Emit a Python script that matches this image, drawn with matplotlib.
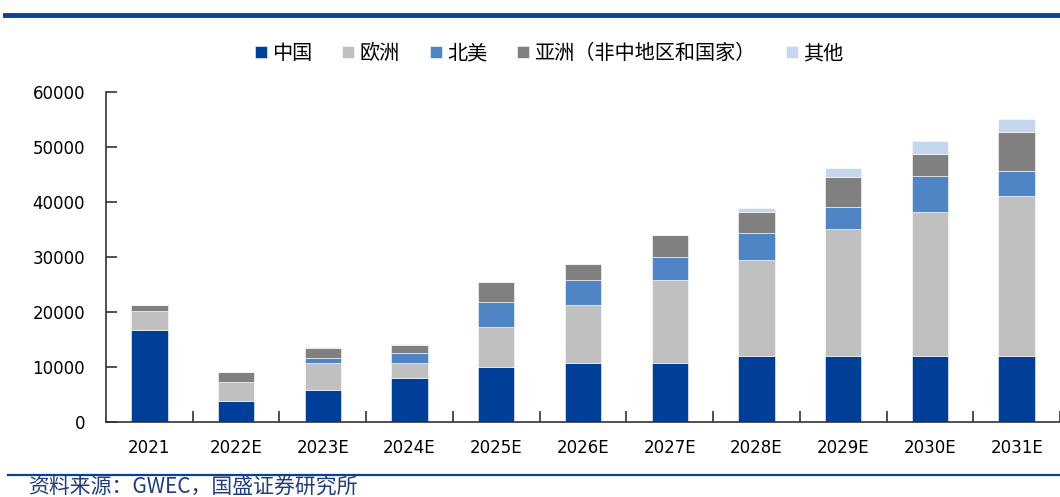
import matplotlib
matplotlib.use("Agg")
import matplotlib.pyplot as plt
import numpy as np

plt.rcParams['font.family'] = ['DejaVu Sans', 'Noto Sans CJK SC']

years = ["2021", "2022E", "2023E", "2024E", "2025E", "2026E",
         "2027E", "2028E", "2029E", "2030E", "2031E"]
china = [16800, 3800, 5800, 8000, 10000, 10800, 10800, 12000, 12000, 12000, 12000]
europe = [3400, 3400, 5000, 2800, 7300, 10450, 15000, 17450, 23150, 26250, 29100]
north_america = [0, 0, 900, 1700, 4600, 4550, 4250, 4850, 3950, 6500, 4500]
asia_other = [1100, 1900, 1750, 1450, 3600, 2850, 3950, 3950, 5400, 4000, 7100]
others = [0, 0, 200, 250, 0, 0, 0, 600, 1700, 2300, 2300]

labels = ["中国", "欧洲", "北美", "亚洲（非中地区和国家）", "其他"]
colors = ["#003F98", "#C0C0C0", "#5085C5", "#808080", "#C5D6EE"]
series = [china, europe, north_america, asia_other, others]

fig = plt.figure(figsize=(10.6, 4.97), dpi=100)
ax = fig.add_axes([0.1, 0.151, 0.9, 0.664])

x = np.arange(len(years))
bottom = np.zeros(len(years))
for vals, lab, col in zip(series, labels, colors):
    ax.bar(x, vals, width=0.42, bottom=bottom, color=col, label=lab,
           edgecolor="white", linewidth=0.4)
    bottom += np.array(vals)

ax.set_xlim(-0.5, len(years) - 0.5)
ax.set_ylim(0, 60000)
ax.set_yticks(range(0, 60001, 10000))
ax.set_xticks(x)
ax.set_xticklabels(years)
ax.tick_params(axis="x", which="major", length=0, pad=12, labelsize=12)
ax.set_xticks(np.arange(0.5, len(years), 1), minor=True)
ax.tick_params(axis="x", which="minor", direction="in", length=8, width=1.2, color="#333333")
ax.tick_params(axis="y", direction="in", length=8, width=1.2, color="#333333", pad=15, labelsize=12)

for s in ["top", "right"]:
    ax.spines[s].set_visible(False)
for s in ["left", "bottom"]:
    ax.spines[s].set_color("#333333")
    ax.spines[s].set_linewidth(1.2)

leg = fig.legend(loc="center", bbox_to_anchor=(0.518, 0.892), ncol=5, frameon=False,
                 prop={"family": "Noto Sans CJK SC", "size": 14.5},
                 handlelength=0.6, handleheight=0.6, handletextpad=0.25, columnspacing=1.5)

fig.add_artist(plt.Line2D([0.005, 1.0], [0.97, 0.97], color="#0B3F9A", lw=3.5))
fig.add_artist(plt.Line2D([0.008, 1.0], [0.044, 0.044], color="#0B3F9A", lw=1.6))
fig.text(0.026, 0.018, "资料来源：GWEC，国盛证券研究所", family=["Noto Sans CJK SC"],
         style="italic", fontsize=15, color="#1F3D7A", va="center")

fig.savefig("out.png", dpi=100)
